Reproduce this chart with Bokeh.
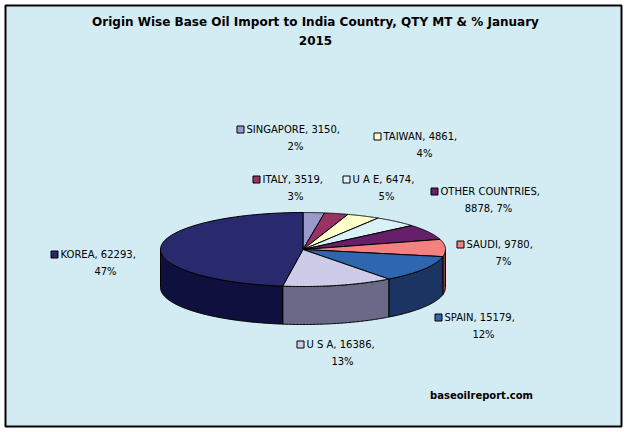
import numpy as np
from bokeh.core.properties import value
from bokeh.embed import file_html
from bokeh.models import ColumnDataSource, Range1d
from bokeh.plotting import figure
from bokeh.resources import INLINE

# data, clockwise from 12 o'clock
countries = ["SINGAPORE", "ITALY", "TAIWAN", "U A E", "OTHER COUNTRIES",
             "SAUDI", "SPAIN", "U S A", "KOREA"]
qty = [3150, 3519, 4861, 6474, 8878, 9780, 15179, 16386, 62293]
pct = ["2%", "3%", "4%", "5%", "7%", "7%", "12%", "13%", "47%"]

top_colors = ["#9999CC", "#993366", "#FFFFCC", "#D9F1F7", "#66206A",
              "#F58080", "#2E66B0", "#CCCCE8", "#29296E"]
side_colors = ["#4D4D66", "#4D1A33", "#808066", "#6D797C", "#331035",
               "#8B3A3A", "#1C3461", "#6A6A88", "#10103F"]

# label placement (text start x, first line y, second line centre x)
lab_x = [246, 262, 383, 352, 440, 466, 444, 306, 60]
lab_y = [129, 179, 136, 179, 191, 244, 317, 344, 254]
lab2_x = [295, 295, 424, 386, 488, 503, 483, 342, 105]

W, H = 627, 432
x0, x1, y0, y1 = 5, 621, 5, 426   # chart area frame in page pixels
cx, cy, rx, ry, depth = 302.5, 249, 142.5, 37, 38

p = figure(width=W, height=H, output_backend="svg", toolbar_location=None,
           x_range=Range1d(x0, x1), y_range=Range1d(y1, y0),
           min_border_left=x0, min_border_top=y0,
           min_border_right=W - x1, min_border_bottom=H - y1)
p.axis.visible = False
p.grid.visible = False
p.background_fill_color = "#D3EBF2"
p.border_fill_color = "white"
p.outline_line_color = "black"
p.outline_line_width = 2

vals = np.array(qty, dtype=float)
edges = np.concatenate([[0], np.cumsum(vals)]) / vals.sum() * 2 * np.pi

top_xs, top_ys, side_xs, side_ys, side_cols = [], [], [], [], []
for i in range(len(vals)):
    a0, a1 = edges[i], edges[i + 1]
    t = np.linspace(a0, a1, 80)
    top_xs.append([cx] + list(cx + rx * np.sin(t)))
    top_ys.append([cy] + list(cy - ry * np.cos(t)))
    s0, s1 = max(a0, np.pi / 2), min(a1, 3 * np.pi / 2)
    if s1 > s0:
        t = np.linspace(s0, s1, 80)
        ex = cx + rx * np.sin(t)
        ey = cy - ry * np.cos(t)
        side_xs.append(list(ex) + list(ex[::-1]))
        side_ys.append(list(ey) + list(ey[::-1] + depth))
        side_cols.append(side_colors[i])

p.patches(side_xs, side_ys, fill_color=side_cols, line_color="black", line_width=1)
p.patches(top_xs, top_ys, fill_color=top_colors, line_color="black", line_width=1)

# labels
line1, line2 = [], []
for name, q, pc in zip(countries, qty, pct):
    if len(name) > 10:
        line1.append(name + ",")
        line2.append(f"{q}, {pc}")
    else:
        line1.append(f"{name}, {q},")
        line2.append(pc)

src = ColumnDataSource(dict(
    kx=[x - 6 for x in lab_x], x=lab_x, y=lab_y, x2=lab2_x,
    y2=[y + 17 for y in lab_y], l1=line1, l2=line2, c=top_colors))
p.scatter("kx", "y", source=src, marker="square", size=7,
          fill_color="c", line_color="black", line_width=1)
p.text("x", "y", text="l1", source=src, text_font=value("DejaVu Sans"),
       text_font_size="10px", text_baseline="middle", text_align="left",
       text_color="black")
p.text("x2", "y2", text="l2", source=src, text_font=value("DejaVu Sans"),
       text_font_size="10px", text_baseline="middle", text_align="center",
       text_color="black")

# title and watermark
p.text([315, 315], [21, 40],
       text=["Origin Wise Base Oil Import to India Country, QTY MT & % January", "2015"],
       text_font=value("DejaVu Sans"), text_font_style="bold",
       text_font_size="12px", text_baseline="middle", text_align="center",
       text_color="black")
p.text([481], [395], text=["baseoilreport.com"], text_font=value("DejaVu Sans"),
       text_font_style="bold", text_font_size="10px", text_baseline="middle",
       text_align="center", text_color="black")

open("out.html", "w").write(file_html(p, INLINE))
